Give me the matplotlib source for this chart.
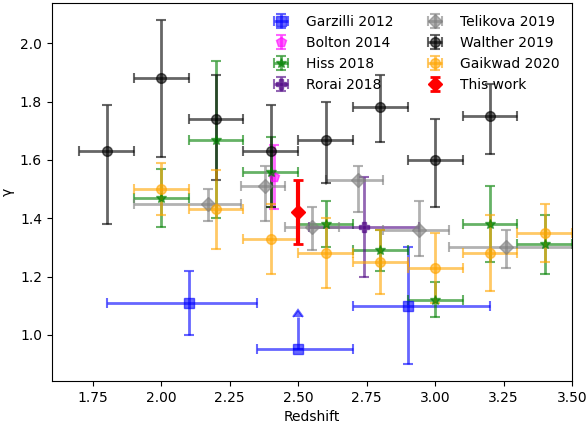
import matplotlib
matplotlib.use("Agg")
from matplotlib import pyplot as plt

# Garzilli 2012
garz_z = [2.1, 2.5, 2.9]
garz_g = [1.11, 0.95, 1.10]
garz_zlo = [0.30, 0.15, 0.20]
garz_zhi = [0.25, 0.20, 0.30]
garz_gerr = [0.11, 0.11, 0.20]
garz_lolims = [False, True, False]

# Bolton 2014
bolt_z = [2.41]
bolt_g = [1.54]
bolt_gerr = [0.11]

# Hiss 2018
hiss_z = [2.0, 2.2, 2.4, 2.6, 2.8, 3.0, 3.2, 3.4]
hiss_g = [1.47, 1.67, 1.56, 1.38, 1.29, 1.12, 1.38, 1.31]
hiss_gerr = [0.10, 0.27, 0.12, 0.08, 0.07, 0.06, 0.13, 0.10]

# Rorai 2018
rorai_z = [2.74]
rorai_g = [1.37]
rorai_zerr = [0.20]
rorai_gerr = [0.17]

# Telikova 2019
teli_z = [2.17, 2.38, 2.55, 2.72, 2.94, 3.26]
teli_g = [1.45, 1.51, 1.37, 1.53, 1.36, 1.30]
teli_zlo = [0.27, 0.09, 0.10, 0.12, 0.13, 0.21]
teli_zhi = [0.12, 0.07, 0.10, 0.09, 0.11, 0.30]
teli_glo = [0.06, 0.12, 0.08, 0.11, 0.09, 0.07]
teli_ghi = [0.05, 0.07, 0.07, 0.05, 0.10, 0.06]

# Walther 2019
walt_z = [1.8, 2.0, 2.2, 2.4, 2.6, 2.8, 3.0, 3.2]
walt_g = [1.63, 1.88, 1.74, 1.63, 1.67, 1.78, 1.60, 1.75]
walt_glo = [0.25, 0.27, 0.21, 0.19, 0.15, 0.12, 0.16, 0.13]
walt_ghi = [0.16, 0.20, 0.15, 0.16, 0.13, 0.11, 0.14, 0.11]

# Gaikwad 2020
gaik_z = [2.0, 2.2, 2.4, 2.6, 2.8, 3.0, 3.2, 3.4]
gaik_g = [1.50, 1.43, 1.33, 1.28, 1.25, 1.23, 1.28, 1.35]
gaik_gerr = [0.09, 0.135, 0.12, 0.12, 0.11, 0.12, 0.13, 0.10]

# This work
this_z = [2.5]
this_g = [1.42]
this_gerr = [0.11]

STYLE = dict(alpha=0.6, capsize=3.5, elinewidth=2, capthick=1.5, markersize=7)

fig, ax = plt.subplots(figsize=(5.88, 4.26), dpi=100)
fig.subplots_adjust(left=0.088, right=0.973, bottom=0.106, top=0.994)

ax.errorbar(garz_z, garz_g, xerr=[garz_zlo, garz_zhi], yerr=garz_gerr, lolims=garz_lolims,
            fmt='s', color='blue', label='Garzilli 2012', **STYLE)
ax.errorbar(bolt_z, bolt_g, yerr=bolt_gerr, fmt='p', color='magenta',
            label='Bolton 2014', **STYLE)
ax.errorbar(hiss_z, hiss_g, xerr=0.1, yerr=hiss_gerr, fmt='*', color='green',
            label='Hiss 2018', **STYLE)
ax.errorbar(rorai_z, rorai_g, xerr=rorai_zerr, yerr=rorai_gerr, fmt='P', color='indigo',
            label='Rorai 2018', **STYLE)
ax.errorbar(teli_z, teli_g, xerr=[teli_zlo, teli_zhi], yerr=[teli_glo, teli_ghi], fmt='D',
            color='grey', label='Telikova 2019', **STYLE)
ax.errorbar(walt_z, walt_g, xerr=0.1, yerr=[walt_glo, walt_ghi], fmt='o', color='black',
            label='Walther 2019', **STYLE)
ax.errorbar(gaik_z, gaik_g, xerr=0.1, yerr=gaik_gerr, fmt='o', color='orange',
            label='Gaikwad 2020', **STYLE)
ax.errorbar(this_z, this_g, yerr=this_gerr, fmt='D', color='red', markersize=7,
            elinewidth=3, capsize=3.5, capthick=2, label='This work')

ax.set_xlim(1.6, 3.5)
ax.set_ylim(0.842, 2.14)
ax.set_xlabel("Redshift")
ax.set_ylabel("γ")
ax.legend(ncol=2, frameon=False, loc='upper right')

fig.savefig("out.png")
